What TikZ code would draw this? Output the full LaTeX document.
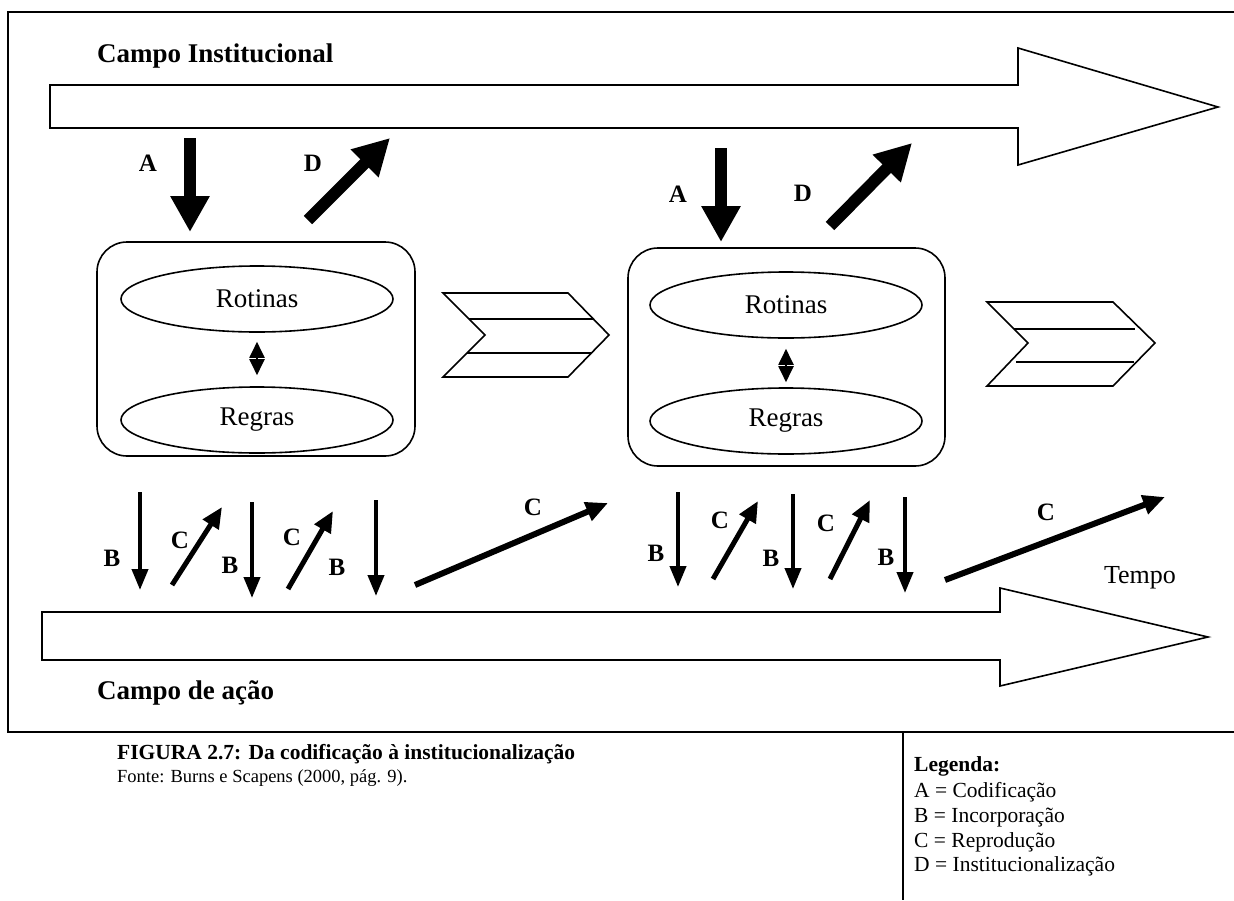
\documentclass[tikz,border=0pt]{standalone}
\usepackage{fontspec}
\setmainfont{Liberation Serif}
\usetikzlibrary{arrows.meta,shapes.geometric}

\begin{document}
\begin{tikzpicture}[x=1pt,y=-1pt,
  contour/.style={draw=black,line width=1.6pt,line join=miter},
  rulebox/.style={draw,line width=1.6pt,rounded corners=30pt,inner sep=0pt},
  blob/.style={ellipse,draw,line width=1.6pt,minimum width=272pt,minimum height=66pt,
    inner sep=0pt,font=\fontsize{27}{30}\selectfont},
  lbl/.style={font=\bfseries\fontsize{25}{28}\selectfont,inner sep=0pt},
  fieldname/.style={anchor=base west,inner sep=0pt,font=\bfseries\fontsize{27}{32}\selectfont},
  captext/.style={anchor=base west,inner sep=0pt,font=\fontsize{21.5}{25}\selectfont},
  fat/.style={line width=12pt,-{Triangle[width=37pt,length=36pt]}},
  down/.style={line width=4pt,-{Triangle[width=16pt,length=21pt]}},
  up/.style={line width=5pt,-{Triangle[width=18pt,length=21pt]}},
  across/.style={line width=6pt,-{Triangle[width=19pt,length=22pt]}},
  twin/.style={line width=2pt,{Triangle[width=15pt,length=16pt]}-{Triangle[width=15pt,length=16pt]}}
]
\useasboundingbox (0,0) rectangle (1234,900);
\fill[white] (0,0) rectangle (1234,900);

% outer frame and legend divider
\draw[line width=2.4pt] (1240,12) -- (8,12) -- (8,732) -- (1240,732);
\draw[line width=2pt] (903,732) -- (903,900);

% institutional field (top) and field of action (bottom)
\draw[contour] (50,85) -- (1018,85) -- (1018,48) -- (1218,107) -- (1018,165)
  -- (1018,128) -- (50,128) -- cycle;
\draw[contour] (42,612) -- (1000,612) -- (1000,588) -- (1208,637) -- (1000,686)
  -- (1000,660) -- (42,660) -- cycle;
\node[fieldname] (inst) at (97,62) {Campo Institucional};
\node[fieldname] (acao) at (97,699) {Campo de ação};

% first stage
\node[rulebox,minimum width=318pt,minimum height=214pt] (box1) at (256,349) {};
\node[blob] (rot1) at (257,299) {Rotinas};
\node[blob] (reg1) at (257,420) {Regras};
\draw[twin,shorten <=9pt,shorten >=11pt] (rot1) -- (reg1);

% second stage
\node[rulebox,minimum width=317pt,minimum height=218pt] (box2) at (786.5,357) {};
\node[blob] (rot2) at (786,305) {Rotinas};
\node[blob] (reg2) at (786,421) {Regras};
\draw[twin,shorten <=10pt,shorten >=5pt] (rot2) -- (reg2);

% chevrons between stages
\draw[contour] (443,293) -- (568,293) -- (609,335) -- (568,377) -- (443,377) -- (485,335) -- cycle;
\draw[contour] (469,319) -- (594,319);
\draw[contour] (467,353) -- (591,353);
\draw[contour] (987,302) -- (1113,302) -- (1155,343) -- (1113,386) -- (987,386) -- (1028,343) -- cycle;
\draw[contour] (1014,329) -- (1135,329);
\draw[contour] (1016,362) -- (1134,362);

% codification (A) and institutionalization (D)
\coordinate (a1s) at (190,138); \coordinate (a1e) at (190,232);
\coordinate (d1s) at (308,220); \coordinate (d1e) at (390,138);
\coordinate (a2s) at (721,148); \coordinate (a2e) at (721,242);
\coordinate (d2s) at (830,226); \coordinate (d2e) at (912,143);
\draw[fat] (a1s) -- (a1e);
\draw[fat] (d1s) -- (d1e);
\draw[fat] (a2s) -- (a2e);
\draw[fat] (d2s) -- (d2e);
\node[lbl] (la1) at (148,163) {A};
\node[lbl] (ld1) at (313,163) {D};
\node[lbl] (la2) at (678,194) {A};
\node[lbl] (ld2) at (803,193) {D};

% enactment (B) and reproduction (C), first stage
\coordinate (b1s) at (140,492); \coordinate (b1e) at (140,590);
\coordinate (c1s) at (172,585); \coordinate (c1e) at (222,507);
\coordinate (b2s) at (252,502); \coordinate (b2e) at (252,598);
\coordinate (c2s) at (288,589); \coordinate (c2e) at (333,511);
\coordinate (b3s) at (376,500); \coordinate (b3e) at (376,596);
\coordinate (c5s) at (415,585); \coordinate (c5e) at (608,503);
\draw[down] (b1s) -- (b1e);
\draw[up] (c1s) -- (c1e);
\draw[down] (b2s) -- (b2e);
\draw[up] (c2s) -- (c2e);
\draw[down] (b3s) -- (b3e);
\draw[across] (c5s) -- (c5e);
\node[lbl] (lb1) at (112,558) {B};
\node[lbl] (lc1) at (180,540) {C};
\node[lbl] (lb2) at (230,565) {B};
\node[lbl] (lc2) at (292,537) {C};
\node[lbl] (lb3) at (337,567) {B};
\node[lbl] (lc5) at (533,507) {C};

% enactment (B) and reproduction (C), second stage
\coordinate (b4s) at (678,492); \coordinate (b4e) at (678,587);
\coordinate (c3s) at (713,579); \coordinate (c3e) at (758,501);
\coordinate (b5s) at (793,494); \coordinate (b5e) at (793,589);
\coordinate (c4s) at (830,579); \coordinate (c4e) at (870,500);
\coordinate (b6s) at (905,497); \coordinate (b6e) at (905,593);
\coordinate (c6s) at (945,580); \coordinate (c6e) at (1165,497);
\draw[down] (b4s) -- (b4e);
\draw[up] (c3s) -- (c3e);
\draw[down] (b5s) -- (b5e);
\draw[up] (c4s) -- (c4e);
\draw[down] (b6s) -- (b6e);
\draw[across] (c6s) -- (c6e);
\node[lbl] (lb4) at (656,553) {B};
\node[lbl] (lc3) at (720,520) {C};
\node[lbl] (lb5) at (771,558) {B};
\node[lbl] (lc4) at (826,523) {C};
\node[lbl] (lb6) at (886,557) {B};
\node[lbl] (lc6) at (1046,512) {C};
\node[inner sep=0pt,font=\fontsize{26}{30}\selectfont] (tempo) at (1140,578) {Tempo};

% caption and legend
\node[captext,font=\bfseries\fontsize{21.5}{25}\selectfont] (fig) at (117,759)
  {FIGURA 2.7: Da codificação à institucionalização};
\node[captext,font=\fontsize{18.5}{22}\selectfont] (fonte) at (117,782) {Fonte: Burns e Scapens (2000, pág. 9).};
\node[captext,font=\bfseries\fontsize{21.5}{25}\selectfont] (leg) at (914,771) {Legenda:};
\node[captext] (legA) at (914,797) {A = Codificação};
\node[captext] (legB) at (914,822) {B = Incorporação};
\node[captext] (legC) at (914,847) {C = Reprodução};
\node[captext] (legD) at (914,871) {D = Institucionalização};
\end{tikzpicture}
\end{document}
